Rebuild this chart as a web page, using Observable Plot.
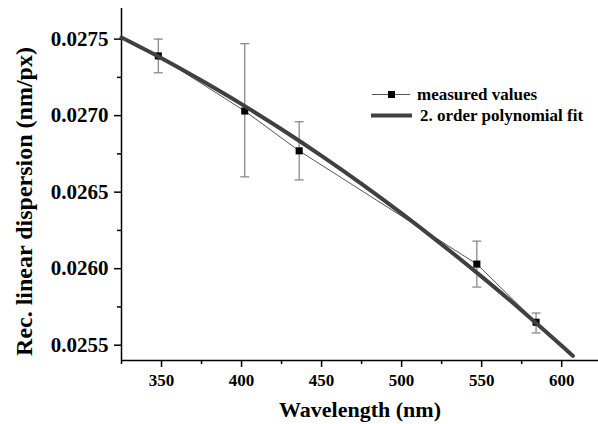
<!DOCTYPE html>
<html><head><meta charset="utf-8">
<script src="https://cdn.jsdelivr.net/npm/d3@7"></script>
<script src="https://cdn.jsdelivr.net/npm/@observablehq/plot@0.6"></script>
<style>
body{margin:0;background:#fff}
#chart{position:relative;width:598px;height:424px}
#chart svg{overflow:visible}
</style>
</head><body><div id="chart"></div>
<script>
// Measured values
const wavelength = [348, 402, 436, 547, 584];
const dispersion = [0.02739, 0.02703, 0.02677, 0.02603, 0.02565];
const errLow  = [0.02728, 0.02660, 0.02658, 0.02588, 0.02558];
const errHigh = [0.02750, 0.02747, 0.02696, 0.02618, 0.02571];
// 2nd order polynomial fit
const fitWavelength = [325, 350, 375, 400, 425, 450, 475, 500, 525, 550, 575, 600, 607];
const fitDispersion = [0.027510, 0.027375, 0.027229, 0.027075, 0.026911, 0.026737, 0.026554, 0.026361, 0.026159, 0.025948, 0.025727, 0.025497, 0.025430];
// Ticks
const xTicks = [350, 400, 450, 500, 550, 600];
const xMinor = [325, 375, 425, 475, 525, 575];
const yTicks = [0.0255, 0.0260, 0.0265, 0.0270, 0.0275];
const yMinor = [0.02575, 0.02625, 0.02675, 0.02725];
const legendLabels = ["measured values", "2. order polynomial fit"];
const xTitle = "Wavelength (nm)";
const yTitle = "Rec. linear dispersion (nm/px)";

const measured = wavelength.map((w, i) => ({w, d: dispersion[i], lo: errLow[i], hi: errHigh[i]}));
const fit = fitWavelength.map((w, i) => ({w, d: fitDispersion[i]}));

const capSymbol = {draw(ctx) { ctx.moveTo(-4.5, 0); ctx.lineTo(4.5, 0); }};
const font = "'Liberation Serif', 'Times New Roman', serif";

const chart = Plot.plot({
  width: 598, height: 424,
  marginLeft: 121, marginRight: 0, marginTop: 8, marginBottom: 64,
  style: {fontFamily: font, fontWeight: "bold", color: "#000", background: "#fff"},
  x: {domain: [325, 623]},
  y: {domain: [0.0254, 0.0277]},
  marks: [
    Plot.axisX(xTicks, {tickSize: 7, tickPadding: 6, fontSize: 17, strokeWidth: 1.5, label: null}),
    Plot.axisX(xMinor, {tickSize: 4, strokeWidth: 1.5, tickFormat: () => "", label: null}),
    Plot.axisY(yTicks, {tickSize: 7, tickPadding: 6, fontSize: 21, strokeWidth: 1.5, tickFormat: d3.format(".4f"), label: null}),
    Plot.axisY(yMinor, {tickSize: 4, strokeWidth: 1.5, tickFormat: () => "", label: null}),
    Plot.ruleY([0.0254], {stroke: "#000", strokeWidth: 1.5}),
    Plot.ruleX([325], {stroke: "#000", strokeWidth: 1.5}),
    Plot.ruleX(measured, {x: "w", y1: "lo", y2: "hi", stroke: "#808080", strokeWidth: 1.2}),
    Plot.dot(measured, {x: "w", y: "lo", symbol: capSymbol, stroke: "#808080", strokeWidth: 1.2, r: 4}),
    Plot.dot(measured, {x: "w", y: "hi", symbol: capSymbol, stroke: "#808080", strokeWidth: 1.2, r: 4}),
    Plot.line(measured, {x: "w", y: "d", stroke: "#555", strokeWidth: 1}),
    Plot.dot(measured, {x: "w", y: "d", symbol: "square", fill: "#000", stroke: "none", r: 4}),
    Plot.line(fit, {x: "w", y: "d", stroke: "#404040", strokeWidth: 4, curve: "natural"}),
    Plot.text([xTitle], {frameAnchor: "bottom", dy: 49, fontSize: 22, lineAnchor: "middle", fill: "#000"}),
    Plot.text([yTitle], {frameAnchor: "left", textAnchor: "middle", dx: -97, dy: 17, rotate: -90, fontSize: 24, lineAnchor: "middle", fill: "#000"})
  ]
});
document.getElementById("chart").appendChild(chart);

// Legend
const svg = d3.select(chart);
const lg = svg.append("g").attr("font-family", font).attr("font-weight", "bold").attr("font-size", 17).attr("text-anchor", "start");
lg.append("line").attr("x1", 372).attr("x2", 410).attr("y1", 94.5).attr("y2", 94.5).attr("stroke", "#555").attr("stroke-width", 1);
lg.append("rect").attr("x", 388).attr("y", 91).attr("width", 7).attr("height", 7).attr("fill", "#000");
lg.append("text").attr("x", 417).attr("y", 94.5).attr("dy", "0.35em").attr("text-anchor", "start").text(legendLabels[0]);
lg.append("line").attr("x1", 371).attr("x2", 412).attr("y1", 115.5).attr("y2", 115.5).attr("stroke", "#404040").attr("stroke-width", 4);
lg.append("text").attr("x", 420).attr("y", 115.5).attr("dy", "0.35em").attr("text-anchor", "start").text(legendLabels[1]);
</script>
</body></html>
